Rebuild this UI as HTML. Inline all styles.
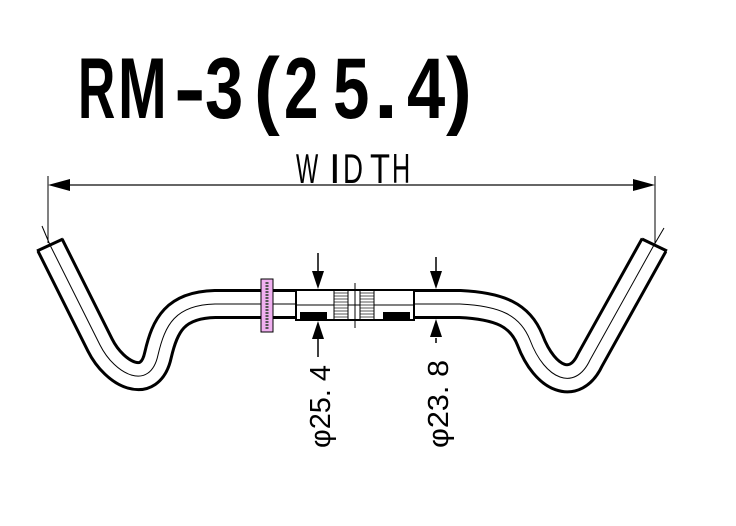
<!DOCTYPE html>
<html><head><meta charset="utf-8"><style>html,body{margin:0;padding:0;background:#fff}svg{display:block}</style></head>
<body>
<svg width="736" height="526" viewBox="0 0 736 526" xmlns="http://www.w3.org/2000/svg">
<g font-family="Liberation Sans, sans-serif" font-weight="bold" font-size="86">
<text transform="translate(78,118) scale(0.6,1)">R</text>
<text transform="translate(118,118) scale(0.68,1)">M</text>
<text transform="translate(174,118) scale(1.1,1)">-</text>
<text transform="translate(205,118) scale(0.8,1)">3</text>
<text transform="translate(254,118) scale(0.9,1)">(</text>
<text transform="translate(284,118) scale(0.72,1)">2</text>
<text transform="translate(333,118) scale(0.76,1)">5</text>
<text transform="translate(374,118) scale(1,1)">.</text>
<text transform="translate(407,118) scale(0.8,1)">4</text>
<text transform="translate(446,118) scale(0.9,1)">)</text>
</g>
<g font-family="Liberation Sans, sans-serif" font-size="42">
<text transform="translate(296,183) scale(0.56,1)">W</text>
<text transform="translate(329,183) scale(1,1)">I</text>
<text transform="translate(343,183) scale(0.66,1)">D</text>
<text transform="translate(370,183) scale(0.78,1)">T</text>
<text transform="translate(392,183) scale(0.6,1)">H</text>
</g>
<line x1="48" y1="176" x2="48" y2="243" stroke="#000" stroke-width="1"/>
<line x1="655" y1="176" x2="655" y2="243" stroke="#000" stroke-width="1"/>
<line x1="70" y1="185" x2="633" y2="185" stroke="#333" stroke-width="1.5"/>
<path d="M48,185 L70,179 L70,191 z"/>
<path d="M655,185 L633,179 L633,191 z"/>
<g fill="none" stroke-linejoin="round">
<path d="M50,245 L100,345 C115,375 150,392 158,355 C165,325 175,305 215,304 L297,304" stroke="#000" stroke-width="30"/>
<path d="M50,245 L100,345 C115,375 150,392 158,355 C165,325 175,305 215,304 L297,304" stroke="#fff" stroke-width="24"/>
<path d="M42,226 L50,245 L100,345 C115,375 150,392 158,355 C165,325 175,305 215,304 L297,304" stroke="#000" stroke-width="1"/>
<path d="M412,304 L460,304 C500,306 520,315 530,340 C545,380 575,392 590,360 L654,245" stroke="#000" stroke-width="30"/>
<path d="M412,304 L460,304 C500,306 520,315 530,340 C545,380 575,392 590,360 L654,245" stroke="#fff" stroke-width="24"/>
<path d="M412,304 L460,304 C500,306 520,315 530,340 C545,380 575,392 590,360 L654,245 L664,228" stroke="#000" stroke-width="1"/>
</g>
<line x1="37" y1="251" x2="63" y2="239" stroke="#000" stroke-width="3"/>
<line x1="642" y1="239" x2="667" y2="251" stroke="#000" stroke-width="3"/>
<rect x="261" y="279" width="12" height="53" fill="#f0b0f0" stroke="#000" stroke-width="1"/>
<line x1="267" y1="282" x2="267" y2="329" stroke="#555" stroke-width="3" stroke-dasharray="2,1"/>
<rect x="296" y="290" width="118" height="30" fill="#fff" stroke="#000" stroke-width="2"/>
<line x1="296" y1="305" x2="414" y2="305" stroke="#000" stroke-width="1"/>
<rect x="334" y="291" width="14" height="28" fill="#fff"/>
<rect x="360" y="291" width="14" height="28" fill="#fff"/>
<g stroke="#555" stroke-width="1">
<path d="M334,293H348M334,296H348M334,299H348M334,302H348M334,305H348M334,308H348M334,311H348M334,314H348M334,317H348"/>
<path d="M360,293H374M360,296H374M360,299H374M360,302H374M360,305H374M360,308H374M360,311H374M360,314H374M360,317H374"/>
</g>
<line x1="334" y1="290" x2="334" y2="320" stroke="#000"/><line x1="348" y1="290" x2="348" y2="320" stroke="#000"/>
<line x1="360" y1="290" x2="360" y2="320" stroke="#000"/><line x1="374" y1="290" x2="374" y2="320" stroke="#000"/>
<line x1="355" y1="283" x2="355" y2="328" stroke="#000"/>
<rect x="300" y="312" width="27" height="8" fill="#000"/>
<rect x="383" y="312" width="27" height="8" fill="#000"/>
<g stroke="#000" stroke-width="1.5">
<line x1="318" y1="253" x2="318" y2="272"/><line x1="318" y1="338" x2="318" y2="357"/>
<line x1="436" y1="257" x2="436" y2="272"/><line x1="436" y1="338" x2="436" y2="343"/>
</g>
<path d="M312,271 L324,271 L318,289 z"/><path d="M312,339 L324,339 L318,321 z"/>
<path d="M430,271 L442,271 L436,289 z"/><path d="M430,337 L442,337 L436,319 z"/>
<text transform="translate(330,448) rotate(-90)" font-family="Liberation Sans, sans-serif" font-size="29" textLength="83" lengthAdjust="spacingAndGlyphs">φ25. 4</text>
<text transform="translate(448,448) rotate(-90)" font-family="Liberation Sans, sans-serif" font-size="29" textLength="88" lengthAdjust="spacingAndGlyphs">φ23. 8</text>
</svg>
</body></html>
